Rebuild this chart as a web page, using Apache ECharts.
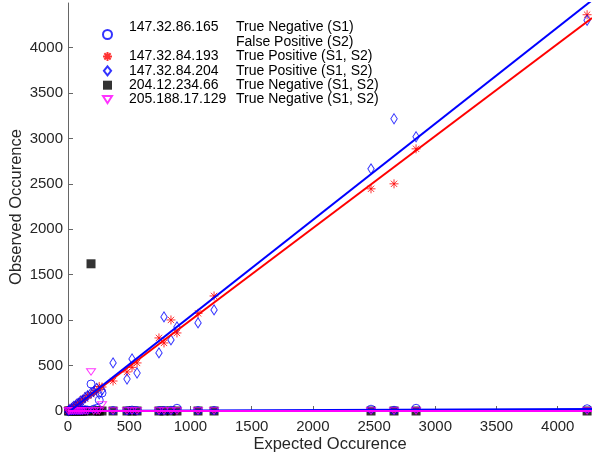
<!DOCTYPE html>
<html>
<head>
<meta charset="utf-8">
<script src="https://cdn.jsdelivr.net/npm/echarts@6/dist/echarts.min.js"></script>
<style>
  html, body { margin: 0; padding: 0; background: #fff; }
  #chart { width: 592px; height: 457px; }
</style>
</head>
<body>
<div id="chart"></div>
<script>
// expected occurence, shared by all hosts
const expected = [4, 15, 30, 45, 60, 75, 90, 105, 120, 140, 160, 188, 210, 235, 255, 278,
                  368, 482, 523, 564, 743, 784, 841, 890, 1062, 1193, 2475, 2663, 2843, 4240];

// observed occurence per host
const obs165 = [0, 5, 3, 8, 6, 10, 4, 12, 8, 15, 10, 297, 20, 30, 120, 198,
                5, 3, 10, 4, 5, 6, 8, 30, 5, 6, 20, 8, 30, 25];
const obs193 = [3, 14, 35, 42, 65, 72, 95, 100, 130, 135, 170, 185, 205, 225, 270, 264,
                330, 430, 480, 529, 804, 749, 1002, 859, 1075, 1266, 2445, 2500, 2885, 4361];
const obs204 = [4, 18, 28, 50, 58, 80, 88, 112, 118, 150, 170, 200, 215, 250, 190, 230,
                529, 352, 573, 418, 639, 1035, 782, 925, 969, 1112, 2665, 3216, 3018, 4300];
const obs66  = [0, 0, 0, 0, 0, 0, 0, 0, 0, 0, 0, 1620, 0, 0, 0, 0,
                0, 0, 0, 0, 0, 0, 0, 0, 0, 0, 0, 0, 0, 0];
const obs129 = [0, 0, 0, 0, 0, 0, 0, 0, 0, 0, 0, 430, 0, 0, 0, 66,
                0, 0, 0, 0, 0, 0, 0, 0, 0, 0, 0, 0, 0, 0];

const hosts = ['147.32.86.165', '147.32.84.193', '147.32.84.204', '204.12.234.66', '205.188.17.129'];
const descs = ['True Negative (S1)\nFalse Positive (S2)', 'True Positive (S1, S2)',
               'True Positive (S1, S2)', 'True Negative (S1, S2)', 'True Negative (S1, S2)'];

// linear fits [slope, intercept]
const fit204 = [1.06, -17];
const fit193 = [1.014, -16];
const fit165 = [0.005, 0];
const fit129 = [0.0003, 0];

const xMax = 4280;
const yMax = 4490;
const font = 'Liberation Sans, Arial, Helvetica, sans-serif';

function pts(ys) { return expected.map((x, i) => [x, ys[i]]); }
function fitLine(f) { return [[0, f[1]], [xMax, f[0] * xMax + f[1]]]; }

const star = 'path://M0,-1L0,1M-1,0L1,0M-0.7,-0.7L0.7,0.7M-0.7,0.7L0.7,-0.7';
const diamond = 'path://M0,0L0.8,1L0,2L-0.8,1Z';
const square = 'path://M0,0L1,0L1,1L0,1Z';
const downTri = 'path://M0,0L2,0L1,1.6Z';

function hollow(c) { return { color: 'rgba(0,0,0,0)', borderColor: c, borderWidth: 1 }; }

const chart = echarts.init(document.getElementById('chart'));
chart.setOption({
  animation: false,
  grid: { left: 68, right: 0, top: 3, bottom: 46, containLabel: false, outerBoundsMode: 'none' },
  legend: {
    orient: 'vertical',
    left: 102,
    top: 20,
    padding: 0,
    itemGap: 0.4,
    itemWidth: 9,
    itemHeight: 9,
    symbolKeepAspect: true,
    data: hosts,
    textStyle: {
      fontFamily: font, fontSize: 14, color: '#000',
      rich: {
        s: { width: 12, fontSize: 14, lineHeight: 15 },
        a: { width: 107, fontFamily: font, fontSize: 14, lineHeight: 15, color: '#000' },
        b: { fontFamily: font, fontSize: 14, lineHeight: 15, color: '#000' }
      }
    },
    formatter: function (name) {
      const d = descs[hosts.indexOf(name)].split('\n');
      return d.map((s, k) => '{s| }{a|' + (k ? ' ' : name) + '}{b|' + s + '}').join('\n');
    }
  },
  xAxis: {
    type: 'value', min: 0, max: xMax, interval: 500,
    name: 'Expected Occurence', nameLocation: 'middle', nameGap: 25, nameMoveOverlap: false,
    nameTextStyle: { fontFamily: font, fontSize: 16.5, color: '#262626' },
    axisLine: { lineStyle: { color: '#666' } },
    axisTick: { inside: true, length: 5, lineStyle: { color: '#666' } },
    axisLabel: { fontFamily: font, fontSize: 15, color: '#262626', margin: 8, showMaxLabel: false,
                 formatter: v => String(v) },
    splitLine: { show: false }
  },
  yAxis: {
    type: 'value', min: 0, max: yMax, interval: 500,
    name: 'Observed Occurence', nameLocation: 'middle', nameGap: 43, nameRotate: 90,
    nameMoveOverlap: false,
    nameTextStyle: { fontFamily: font, fontSize: 16.5, color: '#262626' },
    axisLine: { show: true, lineStyle: { color: '#666' } },
    axisTick: { show: true, inside: true, length: 5, lineStyle: { color: '#666' } },
    axisLabel: { fontFamily: font, fontSize: 15, color: '#262626', margin: 5, showMaxLabel: false,
                 formatter: v => String(v) },
    splitLine: { show: false }
  },
  series: [
    { name: hosts[0], type: 'scatter', data: pts(obs165), symbol: 'circle', symbolSize: 8,
      itemStyle: hollow('#0000ff'), z: 3 },
    { name: hosts[1], type: 'scatter', data: pts(obs193), symbol: star, symbolSize: 9,
      symbolKeepAspect: true, itemStyle: hollow('#ff0000'), z: 3 },
    { name: hosts[2], type: 'scatter', data: pts(obs204), symbol: diamond, symbolSize: [8, 10],
      symbolKeepAspect: true, itemStyle: hollow('#0000ff'), z: 3 },
    { name: hosts[3], type: 'scatter', data: pts(obs66), symbol: square, symbolSize: 9,
      symbolKeepAspect: true, itemStyle: { color: '#000' }, z: 2 },
    { name: hosts[4], type: 'scatter', data: pts(obs129), symbol: downTri, symbolSize: [9, 8],
      symbolKeepAspect: true, itemStyle: hollow('#ff00ff'), z: 3 },
    { type: 'line', data: fitLine(fit193), symbol: 'none', lineStyle: { color: '#ff0000', width: 2 }, z: 4 },
    { type: 'line', data: fitLine(fit204), symbol: 'none', lineStyle: { color: '#0000ff', width: 2 }, z: 4 },
    { type: 'line', data: fitLine(fit165), symbol: 'none', lineStyle: { color: '#0000ff', width: 2 }, z: 4 },
    { type: 'line', data: fitLine(fit129), symbol: 'none', lineStyle: { color: '#ff00ff', width: 2 }, z: 4 }
  ]
});
</script>
</body>
</html>
